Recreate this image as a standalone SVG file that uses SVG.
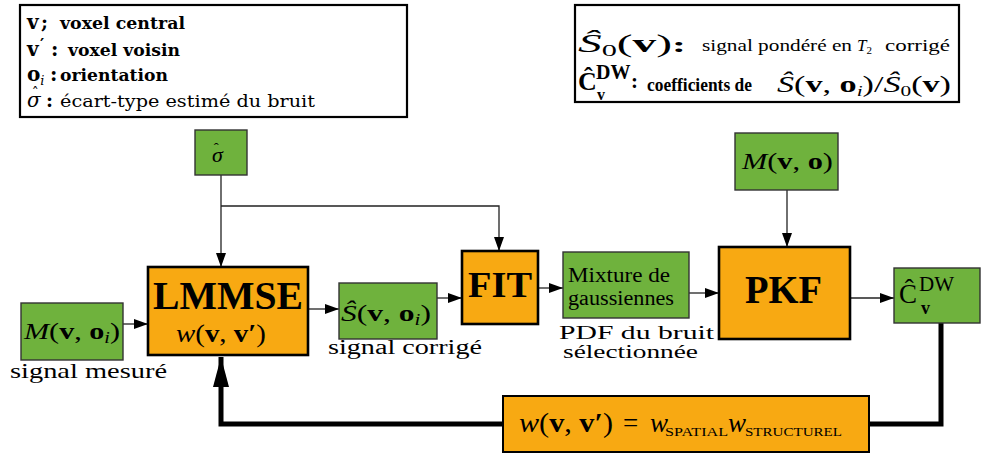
<svg xmlns="http://www.w3.org/2000/svg" width="983" height="456" viewBox="0 0 983 456">
<style>
text{font-family:"Liberation Serif",serif;fill:#000}
text.ds{font-family:"DejaVu Serif",serif}
.g{fill:#6fb23d;stroke:#333;stroke-width:1.4}
.o{fill:#f8a912;stroke:#000;stroke-width:2.6}
.leg{fill:#fff;stroke:#000;stroke-width:2.2}
.ln{fill:none;stroke:#222;stroke-width:1.3}
.thick{fill:none;stroke:#000;stroke-width:5}
.b{font-weight:bold}
.i{font-style:italic}
</style>
<defs>
<marker id="ah" viewBox="0 0 14 10" refX="14" refY="5" markerWidth="14" markerHeight="10" markerUnits="userSpaceOnUse" orient="auto">
<path d="M0,0 L14,5 L0,10 z" fill="#000"/>
</marker>
<marker id="bh" viewBox="0 0 30 16" refX="30" refY="8" markerWidth="30" markerHeight="16" markerUnits="userSpaceOnUse" orient="auto">
<path d="M0,0 L30,8 L0,16 z" fill="#000"/>
</marker>
</defs>

<g id="legend-left">
<rect class="leg" x="20" y="5" width="387" height="112"/>
<text class="ds b" x="27" y="29" font-size="20">v<tspan x="41" font-size="19">;</tspan><tspan x="60" font-size="17" textLength="125" lengthAdjust="spacingAndGlyphs">voxel central</tspan></text>
<text class="ds b" x="27" y="56" font-size="20">v<tspan font-size="16" x="40" dy="-6">′</tspan><tspan dy="6" x="51">:</tspan><tspan x="68" font-size="17" textLength="112" lengthAdjust="spacingAndGlyphs">voxel voisin</tspan></text>
<text class="ds b" x="27" y="81" font-size="20">o<tspan class="i" font-weight="normal" font-size="13" dy="4">i</tspan><tspan dy="-4" x="50">:</tspan><tspan x="60" font-size="17" textLength="108" lengthAdjust="spacingAndGlyphs">orientation</tspan></text>
<text class="ds" x="27" y="107" font-size="20"><tspan class="i">σ</tspan><tspan font-size="14" dx="-9" dy="-9">ˆ</tspan><tspan class="b" font-size="19" x="46" dy="9">:</tspan><tspan x="60" font-size="16" textLength="255" lengthAdjust="spacingAndGlyphs">écart-type estimé du bruit</tspan></text>
</g>

<g id="legend-right">
<rect class="leg" x="575" y="5" width="384" height="97"/>
<text x="578" y="52" font-size="25" textLength="108" lengthAdjust="spacingAndGlyphs"><tspan class="i">Ŝ</tspan><tspan font-size="16" dy="4">0</tspan><tspan dy="-4">(</tspan><tspan class="b">v</tspan>)<tspan class="b" font-size="22">:</tspan></text>
<text x="702" y="51" font-size="16" textLength="150" lengthAdjust="spacingAndGlyphs">signal pondéré en</text>
<text x="857" y="51" font-size="17"><tspan class="i">T</tspan><tspan font-size="11" dy="3">2</tspan></text>
<text x="885" y="51" font-size="16" textLength="65" lengthAdjust="spacingAndGlyphs">corrigé</text>
<text x="578" y="90" font-size="26" class="b">Ĉ<tspan x="596" y="79" font-size="20">DW</tspan><tspan x="597" y="100" font-size="16">v</tspan><tspan x="631" y="88" font-size="21">:</tspan><tspan x="647" y="91" font-size="18" textLength="105" lengthAdjust="spacingAndGlyphs">coefficients de</tspan></text>
<text x="777" y="92" font-size="24" textLength="174" lengthAdjust="spacingAndGlyphs"><tspan class="i">Ŝ</tspan>(<tspan class="b">v</tspan>, <tspan class="b">o</tspan><tspan class="i" font-size="15" dy="4">i</tspan><tspan dy="-4">)/</tspan><tspan class="i">Ŝ</tspan><tspan font-size="15" dy="4">0</tspan><tspan dy="-4">(</tspan><tspan class="b">v</tspan>)</text>
</g>

<g id="connectors">
<line class="ln" x1="123" y1="324" x2="148" y2="324" marker-end="url(#ah)"/>
<line class="ln" x1="308" y1="309" x2="339" y2="309" marker-end="url(#ah)"/>
<line class="ln" x1="437" y1="298" x2="462" y2="298" marker-end="url(#ah)"/>
<line class="ln" x1="538" y1="288" x2="563" y2="288" marker-end="url(#ah)"/>
<line class="ln" x1="689" y1="293" x2="719" y2="293" marker-end="url(#ah)"/>
<line class="ln" x1="850" y1="298" x2="894" y2="298" marker-end="url(#ah)"/>
<line class="ln" x1="221" y1="175" x2="221" y2="267" marker-end="url(#ah)"/>
<polyline class="ln" points="221,206 499,206 499,251" marker-end="url(#ah)"/>
<line class="ln" x1="787" y1="190" x2="787" y2="247" marker-end="url(#ah)"/>
<polyline class="thick" points="941,323 941,424 869,424"/>
<polyline class="thick" points="503,424 221,424 221,357" marker-end="url(#bh)"/>
</g>

<g id="sigma">
<rect class="g" x="195" y="130" width="52" height="45"/>
<text x="212" y="162" font-size="22"><tspan class="i">σ</tspan><tspan font-size="15" dx="-9" dy="-9">ˆ</tspan></text>
</g>

<g id="Mvoi">
<rect class="g" x="21" y="303" width="102" height="57"/>
<text x="24" y="339" font-size="24" textLength="96" lengthAdjust="spacingAndGlyphs"><tspan class="i">M</tspan>(<tspan class="b">v</tspan>, <tspan class="b">o</tspan><tspan class="i" font-size="16" dy="4">i</tspan><tspan dy="-4">)</tspan></text>
<text x="10" y="378" font-size="21" textLength="157" lengthAdjust="spacingAndGlyphs">signal mesuré</text>
</g>

<g id="LMMSE">
<rect class="o" x="148" y="267" width="160" height="88"/>
<text x="153" y="309" font-size="40" class="b" textLength="150" lengthAdjust="spacingAndGlyphs">LMMSE</text>
<text x="176" y="342" font-size="26" textLength="90" lengthAdjust="spacingAndGlyphs"><tspan class="i">w</tspan>(<tspan class="b">v</tspan>, <tspan class="b">v′</tspan>)</text>
</g>

<g id="S">
<rect class="g" x="339" y="283" width="98" height="56"/>
<text x="341" y="321" font-size="24" textLength="90" lengthAdjust="spacingAndGlyphs"><tspan class="i">Ŝ</tspan>(<tspan class="b">v</tspan>, <tspan class="b">o</tspan><tspan class="i" font-size="16" dy="4">i</tspan><tspan dy="-4">)</tspan></text>
<text x="328" y="354" font-size="20" textLength="154" lengthAdjust="spacingAndGlyphs">signal corrigé</text>
</g>

<g id="FIT">
<rect class="o" x="462" y="251" width="76" height="73"/>
<text x="468" y="297" font-size="36" class="b" textLength="64" lengthAdjust="spacingAndGlyphs">FIT</text>
</g>

<g id="mixture">
<rect class="g" x="563" y="252" width="126" height="66"/>
<text x="568" y="282" font-size="20" textLength="102" lengthAdjust="spacingAndGlyphs">Mixture de</text>
<text x="568" y="305" font-size="20" textLength="106" lengthAdjust="spacingAndGlyphs">gaussiennes</text>
<text x="559" y="339" font-size="19" textLength="155" lengthAdjust="spacingAndGlyphs">PDF du bruit</text>
<text x="563" y="358" font-size="19" textLength="135" lengthAdjust="spacingAndGlyphs">sélectionnée</text>
</g>

<g id="PKF">
<rect class="o" x="719" y="247" width="131" height="92"/>
<text x="745" y="303" font-size="40" class="b" textLength="77" lengthAdjust="spacingAndGlyphs">PKF</text>
</g>

<g id="Mvo">
<rect class="g" x="735" y="133" width="103" height="57"/>
<text x="742" y="169" font-size="24" textLength="91" lengthAdjust="spacingAndGlyphs"><tspan class="i">M</tspan>(<tspan class="b">v</tspan>, <tspan class="b">o</tspan>)</text>
</g>

<g id="C">
<rect class="g" x="894" y="268" width="86" height="55"/>
<text x="899" y="303" font-size="27">Ĉ<tspan x="919" y="291" font-size="21">DW</tspan><tspan x="921" y="314" font-size="18" class="b">v</tspan></text>
</g>

<g id="weight">
<rect x="503" y="396" width="366" height="56" fill="#f8a912" stroke="#000" stroke-width="2"/>
<text x="519" y="432" font-size="27"><tspan textLength="94" lengthAdjust="spacingAndGlyphs"><tspan class="i">w</tspan>(<tspan class="b">v</tspan>, <tspan class="b">v′</tspan>)</tspan><tspan x="623">=</tspan><tspan class="i" x="650">w</tspan><tspan x="665" dy="4" font-size="12.5" textLength="63" lengthAdjust="spacingAndGlyphs">SPATIAL</tspan><tspan class="i" x="728" dy="-4">w</tspan><tspan x="745" dy="4" font-size="12.5" textLength="97" lengthAdjust="spacingAndGlyphs">STRUCTUREL</tspan></text>
</g>
</svg>
